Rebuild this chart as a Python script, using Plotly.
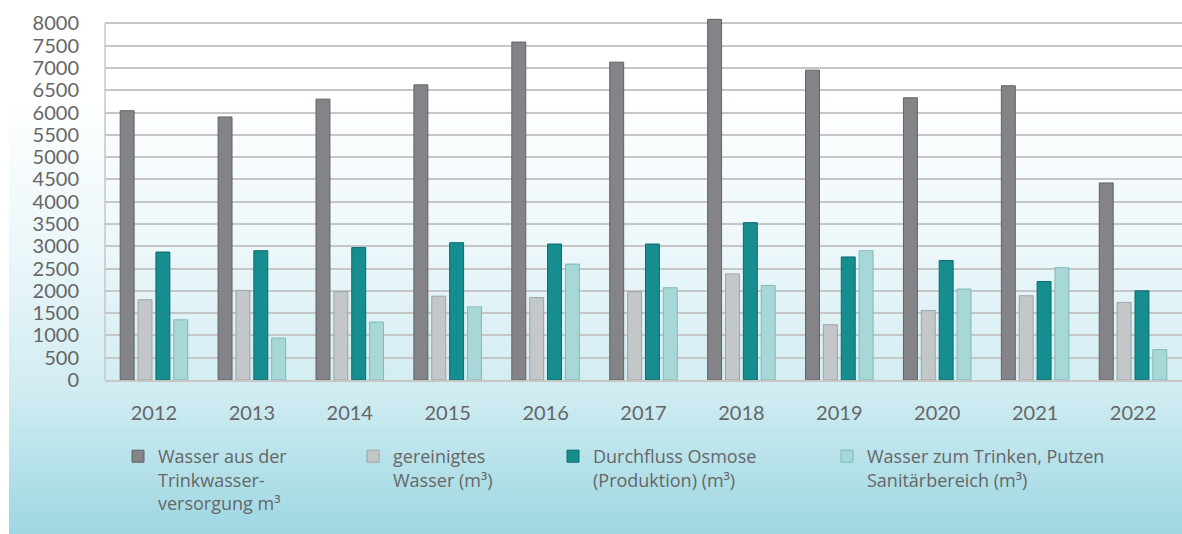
import plotly.graph_objects as go

years = ["2012", "2013", "2014", "2015", "2016", "2017", "2018", "2019", "2020", "2021", "2022"]

trinkwasser = [6040, 5900, 6300, 6620, 7580, 7130, 8090, 6950, 6330, 6600, 4420]
gereinigt = [1800, 2010, 1980, 1880, 1850, 1980, 2380, 1240, 1560, 1890, 1740]
osmose = [2870, 2900, 2970, 3080, 3050, 3050, 3530, 2760, 2680, 2210, 2000]
sanitaer = [1350, 940, 1300, 1640, 2600, 2070, 2120, 2900, 2040, 2520, 680]

names = [
    "Wasser aus der<br>Trinkwasser-<br>versorgung m³",
    "gereinigtes<br>Wasser (m³)",
    "Durchfluss Osmose<br>(Produktion) (m³)",
    "Wasser zum Trinken, Putzen<br>Sanitärbereich (m³)",
]
series = [trinkwasser, gereinigt, osmose, sanitaer]
fills = ["#838388", "#c3c7c9", "#168d8f", "#a7d8d7"]
edges = ["#626267", "#9ea3a6", "#0c6b6d", "#7fb9b8"]

W, H = 1182, 534
ML, MR, MT, MB = 105, 0, 18, 154
ph = H - MT - MB
pw = W - ML - MR
YMAX = 8120

fig = go.Figure()
legend_x_px = [118, 353, 553, 827]
for i, (vals, nm) in enumerate(zip(series, names)):
    lg = "legend" if i == 0 else f"legend{i + 1}"
    fig.add_trace(go.Bar(
        x=years, y=vals, name=nm,
        marker=dict(color=fills[i], line=dict(color=edges[i], width=1)),
        legend=lg,
    ))

# background gradient (white at top -> light blue at bottom)
stops = [(0, (255, 255, 255)), (95, (255, 255, 255)), (250, (236, 247, 250)),
         (390, (209, 236, 242)), (534, (157, 215, 226))]


def col_at(py):
    for (a, ca), (b, cb) in zip(stops[:-1], stops[1:]):
        if a <= py <= b:
            t = (py - a) / (b - a) if b > a else 0
            c = [round(ca[k] + (cb[k] - ca[k]) * t) for k in range(3)]
            return f"rgb({c[0]},{c[1]},{c[2]})"
    return "white"


shapes = []
step = 4
for py in range(90, H, step):
    y0 = (H - MB - (py + step + 0.5)) / ph
    y1 = (H - MB - py) / ph
    shapes.append(dict(type="rect", xref="paper", yref="paper",
                       x0=(9 - ML) / pw, x1=1.0, y0=y0, y1=y1,
                       fillcolor=col_at(py + step / 2), line=dict(width=0), layer="below"))
# left axis line, only up to the 8000 gridline
shapes.append(dict(type="line", xref="paper", yref="y", x0=0, x1=0, y0=0, y1=8000,
                   line=dict(color="#c6c6c6", width=1.5), layer="below"))

legends = {}
for i, px in enumerate(legend_x_px):
    key = "legend" if i == 0 else f"legend{i + 1}"
    legends[key] = dict(
        x=(px - ML) / pw, xanchor="left", y=(H - MB - 438) / ph, yanchor="top",
        orientation="h", bgcolor="rgba(0,0,0,0)",
        font=dict(family="Open Sans", size=18, color="#666666"),
        valign="top",
    )

fig.update_layout(
    width=W, height=H,
    margin=dict(l=ML, r=MR, t=MT, b=MB, autoexpand=False),
    paper_bgcolor="white", plot_bgcolor="rgba(0,0,0,0)",
    barmode="group", bargap=0.27, bargroupgap=0.22,
    shapes=shapes,
    showlegend=True,
    font=dict(family="Lato", color="#666666"),
    **legends,
)
fig.update_yaxes(
    range=[0, YMAX], tickvals=list(range(0, 8001, 500)), showgrid=True,
    gridcolor="#c6c6c6", gridwidth=1.5, showline=False, zeroline=False,
    tickfont=dict(family="Lato", size=20, color="#666666"), ticklabelstandoff=25,
)
fig.update_xaxes(
    showline=True, linecolor="#c6c6c6", linewidth=1.5, showgrid=False,
    tickfont=dict(family="Lato", size=20, color="#666666"), ticklabelstandoff=14,
)

# the page's default body margin would push the figure 8px right and down
fig.write_html("out.html", config={"displayModeBar": False},
               post_script="document.body.style.margin = '0';")
